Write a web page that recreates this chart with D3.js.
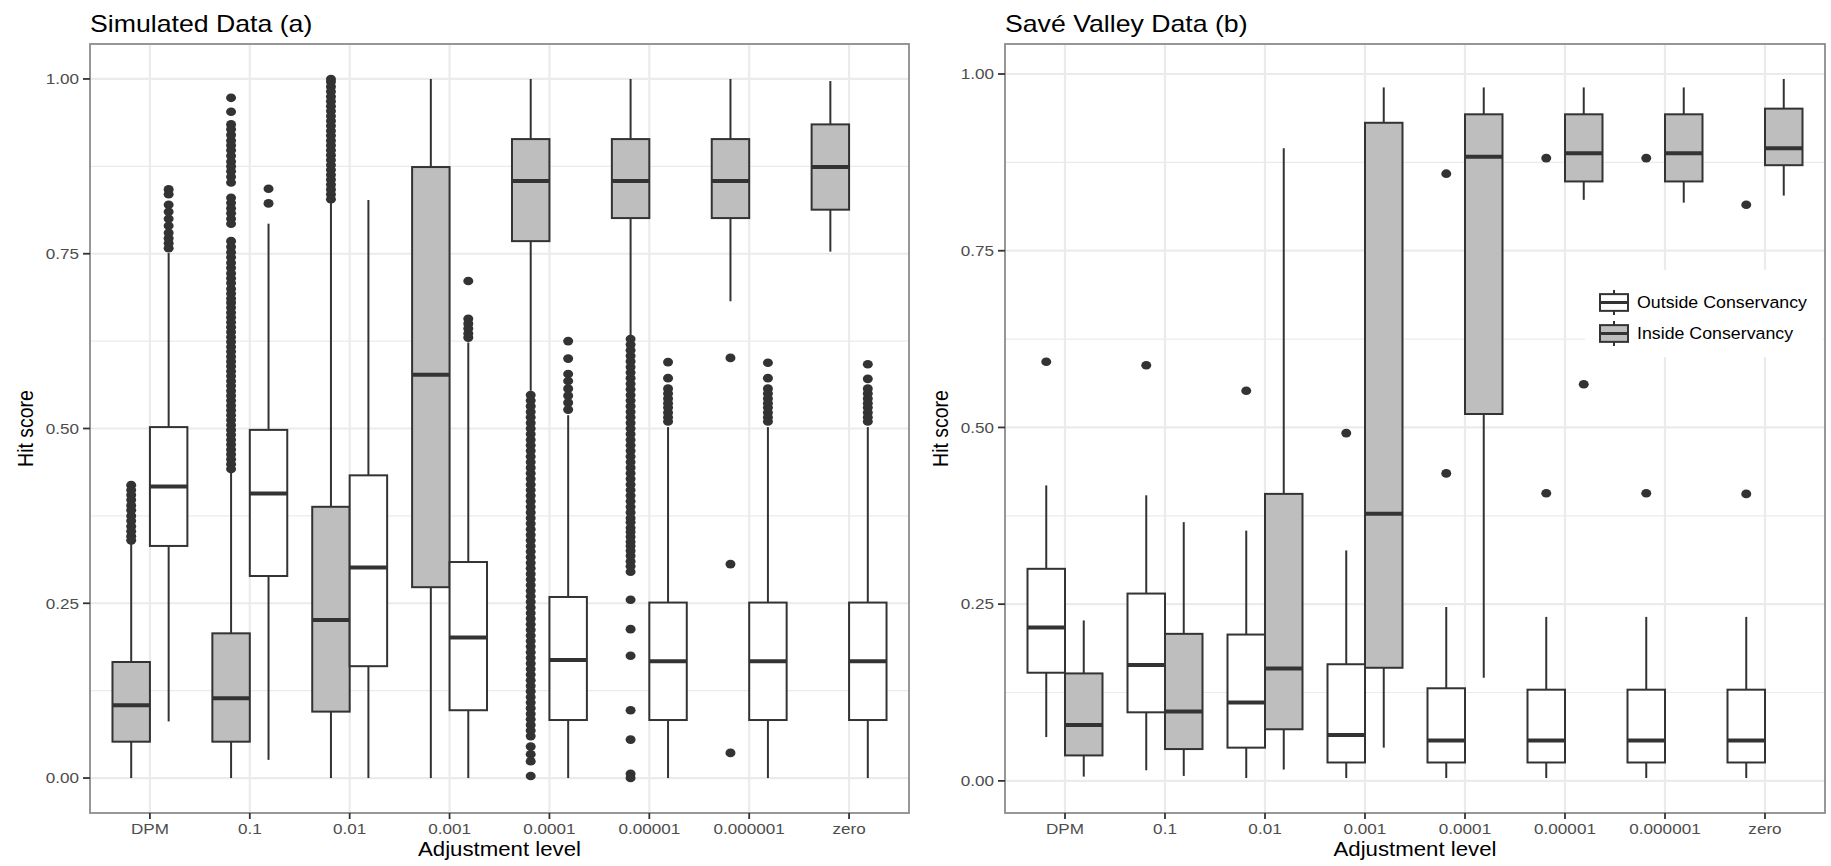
<!DOCTYPE html>
<html><head><meta charset="utf-8">
<script src="https://cdn.jsdelivr.net/npm/d3@7"></script>
<style>html,body{margin:0;padding:0;background:#fff}svg{display:block}</style>
</head><body>
<svg id="chart" width="1831" height="866"></svg>
<script>
// ---------------- DATA ----------------
const categories = ["DPM","0.1","0.01","0.001","0.0001","0.00001","0.000001","zero"];
const yTicks = [0, 0.25, 0.5, 0.75, 1];
const yTickLabels = ["0.00","0.25","0.50","0.75","1.00"];
const yMinorTicks = [0.125, 0.375, 0.625, 0.875];
const seriesNames = ["Outside Conservancy","Inside Conservancy"];
const panelTitles = ["Simulated Data (a)","Savé Valley Data (b)"];
const xTitle = "Adjustment level";
const yTitle = "Hit score";

// box stats per category: [lower whisker, Q1, median, Q3, upper whisker]
const simInside = [
  [0, 0.052, 0.104, 0.166, 0.336],
  [0, 0.052, 0.114, 0.207, 0.437],
  [0, 0.095, 0.226, 0.388, 0.824],
  [0, 0.273, 0.577, 0.874, 1.0],
  [0.554, 0.768, 0.854, 0.914, 1.0],
  [0.633, 0.801, 0.854, 0.914, 1.0],
  [0.682, 0.801, 0.854, 0.914, 1.0],
  [0.753, 0.813, 0.874, 0.935, 0.997]
];
const simOutside = [
  [0.081, 0.332, 0.417, 0.502, 0.751],
  [0.026, 0.289, 0.407, 0.498, 0.793],
  [0, 0.160, 0.301, 0.433, 0.827],
  [0, 0.097, 0.201, 0.309, 0.623],
  [0, 0.083, 0.169, 0.259, 0.519],
  [0, 0.083, 0.167, 0.251, 0.502],
  [0, 0.083, 0.167, 0.251, 0.502],
  [0, 0.083, 0.167, 0.251, 0.502]
];
const simInsideOutliers = [
  [0.419, 0.412, 0.405, 0.398, 0.39, 0.383, 0.375, 0.368, 0.36, 0.353, 0.346, 0.34],
  [0.973, 0.953, 0.935, 0.928, 0.92, 0.912, 0.905, 0.898, 0.89, 0.882, 0.875, 0.868, 0.86, 0.852,
   0.83, 0.823, 0.815, 0.808, 0.80, 0.793, 0.768, 0.76, 0.752, 0.745, 0.737, 0.73, 0.722, 0.715,
   0.708, 0.70, 0.693, 0.686, 0.68, 0.673, 0.666, 0.659, 0.652, 0.645, 0.638, 0.631, 0.624, 0.617,
   0.61, 0.603, 0.596, 0.589, 0.582, 0.575, 0.568, 0.561, 0.554, 0.547, 0.54, 0.533, 0.526, 0.519,
   0.512, 0.505, 0.498, 0.491, 0.484, 0.477, 0.47, 0.463, 0.456, 0.449, 0.442],
  [1.0, 0.996, 0.989, 0.982, 0.975, 0.968, 0.961, 0.954, 0.947, 0.94, 0.933, 0.926, 0.919, 0.912,
   0.905, 0.898, 0.891, 0.884, 0.877, 0.87, 0.863, 0.856, 0.849, 0.842, 0.835, 0.828],
  [],
  [0.548, 0.54, 0.532, 0.524, 0.516, 0.508, 0.50, 0.492, 0.484, 0.476, 0.468, 0.46, 0.452, 0.444,
   0.436, 0.428, 0.42, 0.412, 0.404, 0.396, 0.388, 0.38, 0.372, 0.364, 0.356, 0.348, 0.34, 0.332,
   0.324, 0.316, 0.308, 0.30, 0.292, 0.284, 0.276, 0.268, 0.26, 0.252, 0.244, 0.236, 0.228, 0.22,
   0.212, 0.204, 0.196, 0.188, 0.18, 0.172, 0.164, 0.156, 0.148, 0.14, 0.132, 0.124, 0.116, 0.108,
   0.10, 0.092, 0.084, 0.076, 0.068, 0.06, 0.045, 0.034, 0.024, 0.003],
  [0.628, 0.62, 0.612, 0.604, 0.596, 0.588, 0.58, 0.572, 0.564, 0.556, 0.548, 0.54, 0.532, 0.524,
   0.516, 0.508, 0.50, 0.492, 0.484, 0.476, 0.468, 0.46, 0.452, 0.444, 0.436, 0.428, 0.42, 0.412,
   0.404, 0.396, 0.388, 0.38, 0.372, 0.366, 0.358, 0.352, 0.345, 0.338, 0.332, 0.325, 0.318, 0.31,
   0.303, 0.295, 0.255, 0.213, 0.175, 0.097, 0.055, 0.006, 0.0],
  [0.601, 0.306, 0.036],
  []
];
const simOutsideOutliers = [
  [0.842, 0.835, 0.82, 0.81, 0.80, 0.79, 0.78, 0.772, 0.765, 0.758],
  [0.843, 0.822],
  [],
  [0.711, 0.657, 0.65, 0.643, 0.636, 0.63],
  [0.625, 0.60, 0.578, 0.568, 0.557, 0.547, 0.537, 0.527],
  [0.595, 0.572, 0.557, 0.55, 0.543, 0.536, 0.53, 0.523, 0.516, 0.51],
  [0.594, 0.572, 0.557, 0.55, 0.543, 0.536, 0.53, 0.523, 0.516, 0.51],
  [0.592, 0.571, 0.557, 0.55, 0.543, 0.536, 0.53, 0.523, 0.516, 0.51]
];

const saveOutside = [
  [0.062, 0.153, 0.217, 0.300, 0.418],
  [0.015, 0.097, 0.164, 0.265, 0.404],
  [0.004, 0.047, 0.111, 0.207, 0.354],
  [0.004, 0.026, 0.065, 0.165, 0.326],
  [0.004, 0.026, 0.057, 0.131, 0.246],
  [0.004, 0.026, 0.057, 0.129, 0.232],
  [0.004, 0.026, 0.057, 0.129, 0.232],
  [0.004, 0.026, 0.057, 0.129, 0.232]
];
const saveInside = [
  [0.006, 0.036, 0.079, 0.152, 0.227],
  [0.007, 0.045, 0.098, 0.208, 0.366],
  [0.016, 0.073, 0.159, 0.406, 0.895],
  [0.047, 0.160, 0.378, 0.931, 0.981],
  [0.146, 0.519, 0.883, 0.943, 0.981],
  [0.822, 0.848, 0.888, 0.943, 0.981],
  [0.818, 0.848, 0.888, 0.943, 0.981],
  [0.828, 0.871, 0.895, 0.951, 0.993]
];
const saveOutsideOutliers = [[0.593],[0.588],[0.552],[0.492],[0.859,0.435],[0.881,0.407],[0.881,0.407],[0.815,0.406]];
const saveInsideOutliers = [[],[],[],[],[],[0.561],[],[]];

// ---------------- STYLE / LAYOUT ----------------
const W = 1831, H = 866;
const SX = 1.14;               // horizontal stretch of the original export
const FONT = "'Liberation Sans', Arial, Helvetica, sans-serif";
const INK = "#333333", FILL_IN = "#BEBEBE", FILL_OUT = "#FFFFFF";
const GRID = "#EBEBEB";
const panelTop = 44, panelBottom = 813;

const svg = d3.select("#chart");

function text(g, x, y, str, o = {}) {
  const t = g.append("text")
    .attr("transform", `translate(${x},${y}) scale(${SX},1)` + (o.rotate ? ` rotate(${o.rotate})` : ""))
    .attr("font-family", FONT)
    .attr("font-size", o.size || 15)
    .attr("fill", o.fill || "#000")
    .attr("text-anchor", o.anchor || "start")
    .text(str);
  return t;
}

const panels = [
  { title: panelTitles[0], x0: 90, x1: 909, yTitleX: 33,
    groups: [
      { stats: simInside, outliers: simInsideOutliers, fill: FILL_IN, side: -1 },
      { stats: simOutside, outliers: simOutsideOutliers, fill: FILL_OUT, side: 1 }
    ] },
  { title: panelTitles[1], x0: 1005, x1: 1825, yTitleX: 948, legend: true,
    groups: [
      { stats: saveOutside, outliers: saveOutsideOutliers, fill: FILL_OUT, side: -1 },
      { stats: saveInside, outliers: saveInsideOutliers, fill: FILL_IN, side: 1 }
    ] }
];

panels.forEach(p => {
  const g = svg.append("g");
  // y domain like ggplot: data range + 5% each side
  const all = [];
  p.groups.forEach(gr => { gr.stats.forEach(s => all.push(...s)); gr.outliers.forEach(o => all.push(...o)); });
  const [lo, hi] = d3.extent(all);
  const pad = (hi - lo) * 0.05;
  const y = d3.scaleLinear().domain([lo - pad, hi + pad]).range([panelBottom, panelTop]);
  const x = d3.scalePoint().domain(categories).range([p.x0, p.x1]).padding(0.6);
  const step = x.step();
  const bw = step * 0.375;

  // background
  g.append("rect").attr("x", p.x0).attr("y", panelTop).attr("width", p.x1 - p.x0)
    .attr("height", panelBottom - panelTop).attr("fill", "#fff");
  // minor grid
  g.selectAll(".ymin").data(yMinorTicks).join("line")
    .attr("x1", p.x0).attr("x2", p.x1).attr("y1", d => y(d)).attr("y2", d => y(d))
    .attr("stroke", GRID).attr("stroke-width", 1.2);
  // major grid
  g.selectAll(".ymaj").data(yTicks).join("line")
    .attr("x1", p.x0).attr("x2", p.x1).attr("y1", d => y(d)).attr("y2", d => y(d))
    .attr("stroke", GRID).attr("stroke-width", 2.2);
  g.selectAll(".xmaj").data(categories).join("line")
    .attr("x1", d => x(d)).attr("x2", d => x(d)).attr("y1", panelTop).attr("y2", panelBottom)
    .attr("stroke", GRID).attr("stroke-width", 2.2);

  // boxes
  p.groups.forEach(gr => {
    categories.forEach((c, i) => {
      const s = gr.stats[i];
      const cx = x(c) + gr.side * step * 0.1875;
      const bg = g.append("g");
      // outliers
      bg.selectAll("ellipse").data(gr.outliers[i]).join("ellipse")
        .attr("cx", cx).attr("cy", d => y(d)).attr("rx", 5).attr("ry", 4.3)
        .attr("fill", INK);
      // whiskers
      bg.append("line").attr("x1", cx).attr("x2", cx).attr("y1", y(s[3])).attr("y2", y(s[4]))
        .attr("stroke", INK).attr("stroke-width", 2);
      bg.append("line").attr("x1", cx).attr("x2", cx).attr("y1", y(s[1])).attr("y2", y(s[0]))
        .attr("stroke", INK).attr("stroke-width", 2);
      // box
      bg.append("rect").attr("x", cx - bw / 2).attr("width", bw)
        .attr("y", y(s[3])).attr("height", y(s[1]) - y(s[3]))
        .attr("fill", gr.fill).attr("stroke", INK).attr("stroke-width", 2);
      // median
      bg.append("line").attr("x1", cx - bw / 2).attr("x2", cx + bw / 2)
        .attr("y1", y(s[2])).attr("y2", y(s[2]))
        .attr("stroke", INK).attr("stroke-width", 4);
    });
  });

  // panel border
  g.append("rect").attr("x", p.x0).attr("y", panelTop).attr("width", p.x1 - p.x0)
    .attr("height", panelBottom - panelTop).attr("fill", "none")
    .attr("stroke", "#8C8C8C").attr("stroke-width", 1.8);

  // y axis ticks + labels
  yTicks.forEach((v, i) => {
    g.append("line").attr("x1", p.x0 - 7).attr("x2", p.x0).attr("y1", y(v)).attr("y2", y(v))
      .attr("stroke", INK).attr("stroke-width", 1.8);
    text(g, p.x0 - 11, y(v) + 5.3, yTickLabels[i], { anchor: "end", fill: "#4D4D4D", size: 15 });
  });
  // x axis ticks + labels
  categories.forEach(c => {
    g.append("line").attr("x1", x(c)).attr("x2", x(c)).attr("y1", panelBottom).attr("y2", panelBottom + 6)
      .attr("stroke", INK).attr("stroke-width", 1.8);
    text(g, x(c), 833.5, c, { anchor: "middle", fill: "#4D4D4D", size: 15 });
  });
  // axis titles
  text(g, (p.x0 + p.x1) / 2, 856, xTitle, { anchor: "middle", size: 19.5 });
  text(g, p.yTitleX, (panelTop + panelBottom) / 2, yTitle, { anchor: "middle", size: 19.5, rotate: -90 });
  // plot title
  text(g, p.x0, 31.5, p.title, { size: 23.4 });

  // legend
  if (p.legend) {
    const lg = svg.append("g");
    lg.append("rect").attr("x", 1585).attr("y", 270).attr("width", 238).attr("height", 87).attr("fill", "#fff");
    const fills = [FILL_OUT, FILL_IN];
    seriesNames.forEach((name, i) => {
      const cy = 302.5 + i * 31, kx = 1614, kh = 31, kw = 28;
      lg.append("line").attr("x1", kx).attr("x2", kx).attr("y1", cy - kh * 0.4).attr("y2", cy + kh * 0.4)
        .attr("stroke", INK).attr("stroke-width", 2);
      lg.append("rect").attr("x", kx - kw / 2).attr("width", kw).attr("y", cy - kh * 0.27).attr("height", kh * 0.54)
        .attr("fill", fills[i]).attr("stroke", INK).attr("stroke-width", 2);
      lg.append("line").attr("x1", kx - kw / 2).attr("x2", kx + kw / 2).attr("y1", cy).attr("y2", cy)
        .attr("stroke", INK).attr("stroke-width", 3);
      text(lg, 1637, cy + 5.6, name, { size: 15.6 });
    });
  }
});
</script>
</body></html>
